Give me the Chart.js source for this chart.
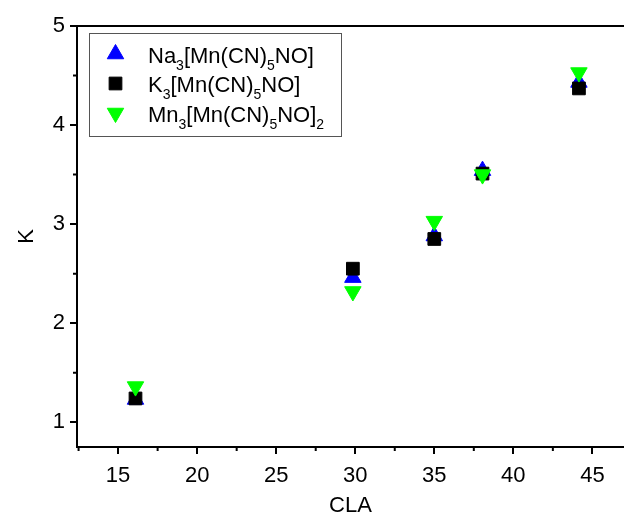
<!DOCTYPE html>
<html>
<head>
<meta charset="utf-8">
<script src="https://cdn.jsdelivr.net/npm/chart.js@4/dist/chart.umd.min.js"></script>
<style>
  body { margin: 0; background: #fff; }
  canvas { display: block; }
</style>
</head>
<body>
<canvas id="chart" width="624" height="525"></canvas>
<script>
// Data
const claValues = [16.1, 29.85, 35.0, 38.05, 44.15];
const naValues = [1.23, 2.46, 2.88, 3.54, 4.43];
const kValues = [1.24, 2.55, 2.85, 3.51, 4.37];
const mnValues = [1.36, 2.32, 3.03, 3.50, 4.53];
const seriesNames = ['Na3[Mn(CN)5NO]', 'K3[Mn(CN)5NO]', 'Mn3[Mn(CN)5NO]2'];
const xTitle = 'CLA';
const yTitle = 'K';

const FONT = "'Liberation Sans', Arial, sans-serif";

function toPoints(ys) {
    return claValues.map((x, i) => ({ x, y: ys[i] }));
}

// Top frame line and minor ticks
const framePlugin = {
    id: 'frame',
    afterDraw(chart) {
        const ctx = chart.ctx;
        const area = chart.chartArea;
        const xs = chart.scales.x;
        const ys = chart.scales.y;
        ctx.save();
        ctx.strokeStyle = '#000';
        ctx.lineWidth = 2;
        ctx.beginPath();
        ctx.moveTo(area.left - 1, area.top);
        ctx.lineTo(chart.width, area.top);
        ctx.stroke();

        // minor ticks halfway between majors
        ctx.beginPath();
        for (let v = Math.ceil(xs.min / 2.5) * 2.5; v <= xs.max; v += 2.5) {
            if (v % 5 === 0) continue;
            const px = xs.getPixelForValue(v);
            ctx.moveTo(px, area.bottom);
            ctx.lineTo(px, area.bottom + 4);
        }
        for (let v = Math.ceil(ys.min / 0.5) * 0.5; v <= ys.max; v += 0.5) {
            if (v % 1 === 0) continue;
            const py = ys.getPixelForValue(v);
            ctx.moveTo(area.left, py);
            ctx.lineTo(area.left - 4, py);
        }
        ctx.stroke();
        ctx.restore();
    }
};

// Legend with subscripts
const legendPlugin = {
    id: 'subLegend',
    afterDraw(chart) {
        const ctx = chart.ctx;
        ctx.save();
        ctx.strokeStyle = '#555';
        ctx.lineWidth = 1;
        ctx.strokeRect(89.5, 33.5, 252, 103);
        ctx.textBaseline = 'alphabetic';
        ctx.textAlign = 'left';
        seriesNames.forEach((name, i) => {
            const base = 62.7 + i * 29.5;
            const ds = chart.data.datasets[i];
            ctx.fillStyle = ds.backgroundColor;
            ctx.strokeStyle = ds.borderColor;
            ctx.lineWidth = 1;
            Chart.helpers.drawPoint(ctx, {
                pointStyle: ds.pointStyle,
                radius: ds.pointRadius,
                rotation: ds.rotation || 0,
                borderWidth: 1
            }, 115.5, base - 8.7);
            ctx.fillStyle = '#000';
            let x = 148;
            name.split(/(\d+)/).forEach(part => {
                if (!part) return;
                const sub = /^\d+$/.test(part);
                ctx.font = (sub ? '14px ' : '22px ') + FONT;
                ctx.fillText(part, x, sub ? base + 7 : base);
                x += ctx.measureText(part).width;
            });
        });
        ctx.restore();
    }
};

const chart = new Chart(document.getElementById('chart'), {
    type: 'scatter',
    data: {
        datasets: [
            {
                label: seriesNames[0],
                data: toPoints(naValues),
                pointStyle: 'triangle',
                pointRadius: 9.5,
                backgroundColor: '#0000ff',
                borderColor: '#0000ff',
                borderWidth: 1,
                order: 2
            },
            {
                label: seriesNames[1],
                data: toPoints(kValues),
                pointStyle: 'rect',
                pointRadius: 9,
                backgroundColor: '#000000',
                borderColor: '#000000',
                borderWidth: 1,
                order: 1
            },
            {
                label: seriesNames[2],
                data: toPoints(mnValues),
                pointStyle: 'triangle',
                rotation: 180,
                pointRotation: 180,
                pointRadius: 9.5,
                backgroundColor: '#00ff00',
                borderColor: '#00ff00',
                borderWidth: 1,
                order: 0
            }
        ]
    },
    options: {
        responsive: false,
        animation: false,
        layout: { autoPadding: false, padding: { top: 26, left: 0, right: 0, bottom: 0 } },
        plugins: {
            legend: { display: false },
            tooltip: { enabled: false }
        },
        scales: {
            x: {
                type: 'linear',
                min: 12.4,
                max: 47,
                ticks: {
                    stepSize: 5,
                    includeBounds: false,
                    color: '#000',
                    padding: 9,
                    maxRotation: 0,
                    font: { family: FONT, size: 22 }
                },
                grid: { drawOnChartArea: false, drawTicks: true, tickLength: 7, color: '#000', lineWidth: 2 },
                border: { display: true, color: '#000', width: 2 },
                title: {
                    display: true,
                    text: xTitle,
                    color: '#000',
                    font: { family: FONT, size: 22 },
                    padding: { top: 0, bottom: 6 }
                },
                afterFit(scale) {
                    scale.height = 78;
                    scale.paddingLeft = 0;
                    scale.paddingRight = 0;
                }
            },
            y: {
                type: 'linear',
                min: 0.75,
                max: 5,
                ticks: {
                    stepSize: 1,
                    includeBounds: false,
                    color: '#000',
                    padding: 5,
                    font: { family: FONT, size: 22 }
                },
                grid: { drawOnChartArea: false, drawTicks: true, tickLength: 7, color: '#000', lineWidth: 2 },
                border: { display: true, color: '#000', width: 2 },
                title: {
                    display: true,
                    text: yTitle,
                    color: '#000',
                    font: { family: FONT, size: 22 },
                    padding: { top: 14, bottom: 0 }
                },
                afterFit(scale) {
                    scale.width = 77;
                    scale.paddingTop = 0;
                    scale.paddingBottom = 0;
                }
            }
        }
    },
    plugins: [framePlugin, legendPlugin]
});
</script>
</body>
</html>
